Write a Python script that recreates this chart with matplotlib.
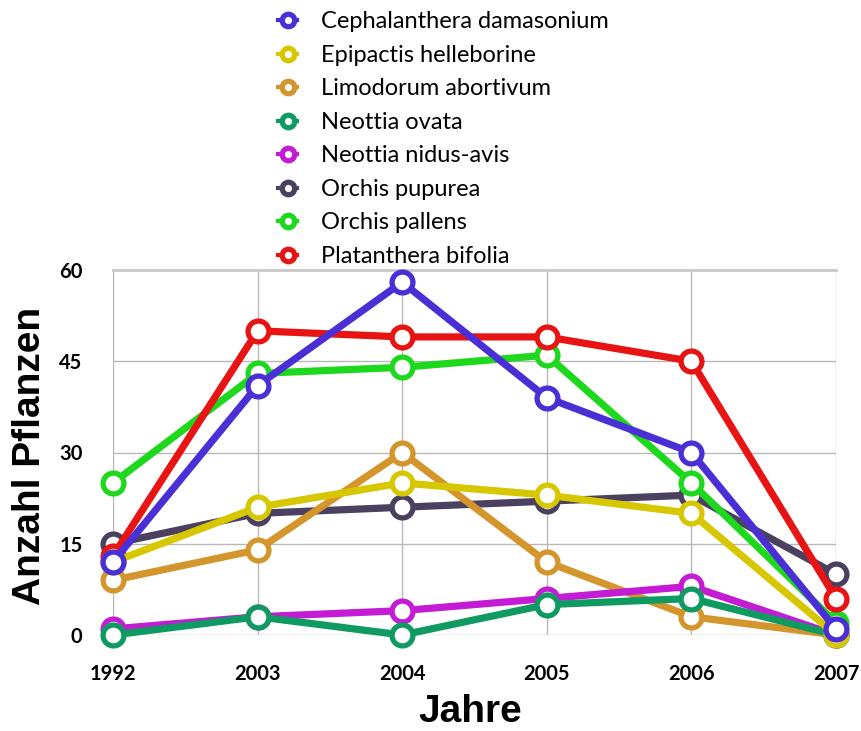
import matplotlib
matplotlib.use("Agg")
import matplotlib.pyplot as plt
import numpy as np

years = ["1992", "2003", "2004", "2005", "2006", "2007"]

cephalanthera = [12, 41, 58, 39, 30, 1]
epipactis = [12, 21, 25, 23, 20, 0]
limodorum = [9, 14, 30, 12, 3, 0]
neottia_ovata = [0, 3, 0, 5, 6, 0]
neottia_nidus = [1, 3, 4, 6, 8, 0]
orchis_pupurea = [15, 20, 21, 22, 23, 10]
orchis_pallens = [25, 43, 44, 46, 25, 2]
platanthera = [13, 50, 49, 49, 45, 6]

names = ["Cephalanthera damasonium", "Epipactis helleborine", "Limodorum abortivum",
         "Neottia ovata", "Neottia nidus-avis", "Orchis pupurea", "Orchis pallens",
         "Platanthera bifolia"]
series = [cephalanthera, epipactis, limodorum, neottia_ovata, neottia_nidus,
          orchis_pupurea, orchis_pallens, platanthera]
colors = ["#4a2fd6", "#d6c700", "#d4962c", "#0f9a62", "#c41bd4", "#4b4060",
          "#1ed81e", "#e81414"]
# drawing order (back to front)
zorder = [9, 8, 3, 5, 4, 2, 6, 7]

fig = plt.figure(figsize=(8.61, 7.31), dpi=100)
ax = fig.add_axes([113 / 861, 1 - 635 / 731, (836 - 113) / 861, (635 - 270) / 731])

x = np.arange(len(years))
handles = []
for name, vals, c, z in zip(names, series, colors, zorder):
    h, = ax.plot(x, vals, color=c, lw=5.2, marker="o", ms=15, mfc="white",
                 mec=c, mew=3.8, zorder=z, clip_on=False, label=name)
    handles.append(h)

ax.set_xlim(0, 5)
ax.set_ylim(0, 60)
ax.set_xticks(x)
ax.set_xticklabels(years)
ax.set_yticks([0, 15, 30, 45, 60])
ax.grid(True, color="#b8b8b8", lw=1)
ax.set_axisbelow(True)
for s in ["left", "right", "bottom"]:
    ax.spines[s].set_visible(False)
ax.spines["top"].set_color("#c8c8c8")
ax.spines["top"].set_linewidth(2)
ax.tick_params(length=0, labelsize=14.5)
ax.tick_params(axis="x", pad=21)
ax.tick_params(axis="y", pad=22)
for lab in ax.get_xticklabels() + ax.get_yticklabels():
    lab.set_family("Lato")
    lab.set_weight("bold")

ax.set_xlabel("Jahre", fontsize=28, fontweight="bold", family="Liberation Sans", va="center")
ax.xaxis.set_label_coords(0.494, -0.211)
ax.set_ylabel("Anzahl Pflanzen", fontsize=28, fontweight="bold", family="Liberation Sans", va="center")
ax.yaxis.set_label_coords(-0.115, 0.49)

leg = fig.legend(handles=handles, loc="upper left", bbox_to_anchor=(257 / 861, 1 + 10 / 731),
                 frameon=False, prop={"family": "Lato", "size": 17}, handlelength=0.8,
                 labelspacing=0.53, handletextpad=1.0, markerscale=0.6)
for lh in leg.get_lines():
    lh.set_linewidth(3)

fig.savefig("out.png", dpi=100)
